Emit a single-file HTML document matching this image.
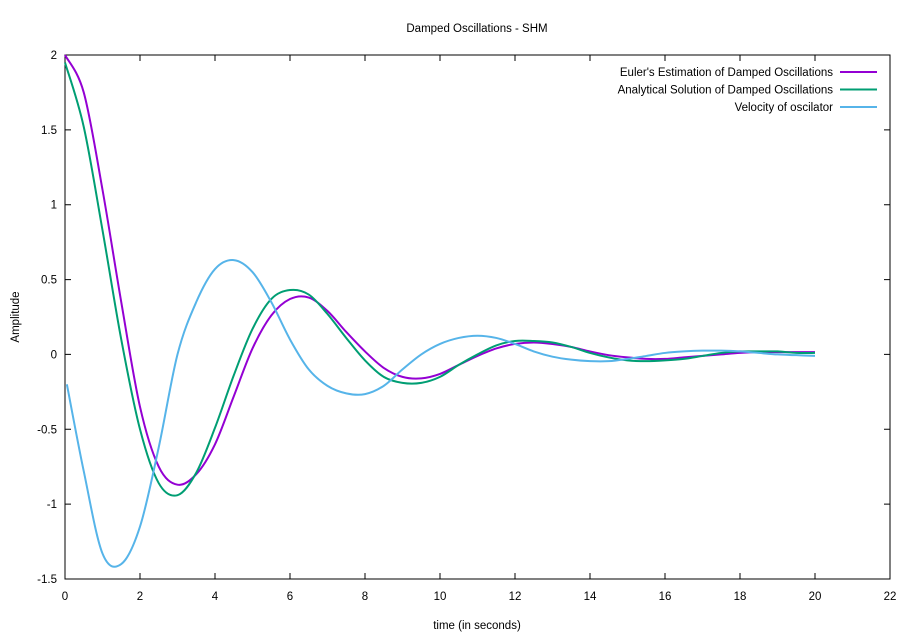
<!DOCTYPE html>
<html><head><meta charset="utf-8"><style>
body{margin:0;background:#fff}
svg{display:block;font-family:"Liberation Sans",sans-serif;font-size:11.5px}
</style></head><body>
<svg id="chart" width="911" height="637">
<rect x="0" y="0" width="911" height="637" fill="#fff"/>
<text x="477" y="32" text-anchor="middle">Damped Oscillations - SHM</text>
<text x="477" y="629" text-anchor="middle">time (in seconds)</text>
<text transform="translate(19,317) rotate(-90)" text-anchor="middle">Amplitude</text>
<g id="axes"></g>
<g id="series"></g>
<g id="legend"></g>
</svg>
<script>
const times=[0,0.5,1,1.5,2,2.5,3,3.5,4,4.5,5,5.5,6,6.5,7,7.5,8,8.5,9,9.5,10,10.5,11,11.5,12,12.5,13,13.5,14,14.5,15,15.5,16,16.5,17,17.5,18,18.5,19,19.5,20];
const eulerValues=[2.0,1.75,1.1,0.35,-0.35,-0.75,-0.87,-0.80,-0.6,-0.28,0.04,0.26,0.37,0.38,0.29,0.15,0.02,-0.09,-0.15,-0.16,-0.13,-0.07,-0.01,0.04,0.07,0.08,0.07,0.05,0.02,-0.005,-0.02,-0.03,-0.03,-0.02,-0.01,0,0.01,0.015,0.015,0.015,0.015];
const analyticValues=[1.95,1.52,0.83,0.10,-0.50,-0.86,-0.94,-0.79,-0.49,-0.14,0.17,0.37,0.43,0.40,0.27,0.11,-0.04,-0.15,-0.19,-0.19,-0.15,-0.07,0,0.06,0.09,0.09,0.08,0.05,0.01,-0.02,-0.04,-0.045,-0.04,-0.03,-0.01,0.01,0.02,0.02,0.02,0.01,0.01];
const velTimes=[0.05,0.5,1,1.5,2,2.5,3,3.5,4,4.5,5,5.5,6,6.5,7,7.5,8,8.5,9,9.5,10,10.5,11,11.5,12,12.5,13,13.5,14,14.5,15,15.5,16,16.5,17,17.5,18,18.5,19,19.5,20];
const velocityValues=[-0.2,-0.78,-1.33,-1.40,-1.15,-0.62,0.0,0.35,0.57,0.63,0.55,0.35,0.1,-0.1,-0.21,-0.26,-0.265,-0.21,-0.1,0.0,0.07,0.11,0.125,0.11,0.07,0.02,-0.015,-0.035,-0.045,-0.045,-0.03,-0.01,0.01,0.02,0.025,0.025,0.02,0.01,0,-0.005,-0.01];
const xTicks=[0,2,4,6,8,10,12,14,16,18,20,22];
const yTicks=[2,1.5,1,0.5,0,-0.5,-1,-1.5];
const seriesNames=["Euler's Estimation of Damped Oscillations","Analytical Solution of Damped Oscillations","Velocity of oscilator"];

const L=65,R=890,T=55,B=579;
const xs=v=>L+(v-0)/22*(R-L);
const ys=v=>T+(2-v)/3.5*(B-T);
const NS="http://www.w3.org/2000/svg";
function mk(tag,attrs,parent){const e=document.createElementNS(NS,tag);for(const k in attrs)e.setAttribute(k,attrs[k]);parent.appendChild(e);return e;}
const axes=document.getElementById('axes');
const frame=mk('rect',{x:L,y:T,width:R-L,height:B-T,fill:'none',stroke:'#000','stroke-width':1},axes);


xTicks.forEach(t=>{
  const x=xs(t);
  const l=mk('path',{d:`M${x},${B}v-6M${x},${T}v6`,stroke:'#000'},axes);
  
  
  const tx=mk('text',{x:x,y:B+21,'text-anchor':'middle'},axes);tx.textContent=t;
  
  
});
yTicks.forEach(t=>{
  const y=ys(t);
  const l=mk('path',{d:`M${L},${y}h6M${R},${y}h-6`,stroke:'#000'},axes);
  
  
  const tx=mk('text',{x:L-8,y:y+4,'text-anchor':'end'},axes);tx.textContent=t;
  
  
});
function smooth(px,py){
  const p=px.map((x,i)=>[xs(x),ys(py[i])]);
  let d=`M${p[0][0]},${p[0][1]}`;
  for(let i=0;i<p.length-1;i++){
    const p0=p[Math.max(0,i-1)],p1=p[i],p2=p[i+1],p3=p[Math.min(p.length-1,i+2)];
    d+=`C${p1[0]+(p2[0]-p0[0])/6},${p1[1]+(p2[1]-p0[1])/6} ${p2[0]-(p3[0]-p1[0])/6},${p2[1]-(p3[1]-p1[1])/6} ${p2[0]},${p2[1]}`;
  }
  return d;
}
const sg=document.getElementById('series');
const colors=['#9400d3','#009e73','#56b4e9'];
const e1=mk('path',{d:smooth(times,eulerValues),fill:'none',stroke:colors[0],'stroke-width':2},sg);


const e2=mk('path',{d:smooth(times,analyticValues),fill:'none',stroke:colors[1],'stroke-width':2},sg);


const e3=mk('path',{d:smooth(velTimes,velocityValues),fill:'none',stroke:colors[2],'stroke-width':2},sg);


const lg=document.getElementById('legend');
seriesNames.forEach((n,i)=>{
  const y=72+i*17.5;
  const tx=mk('text',{x:833,y:y+4,'text-anchor':'end'},lg);tx.textContent=n;
  
  
  const ln=mk('path',{d:`M840,${y}h37`,stroke:colors[i],'stroke-width':2},lg);
  
  
});
</script>
</body></html>
